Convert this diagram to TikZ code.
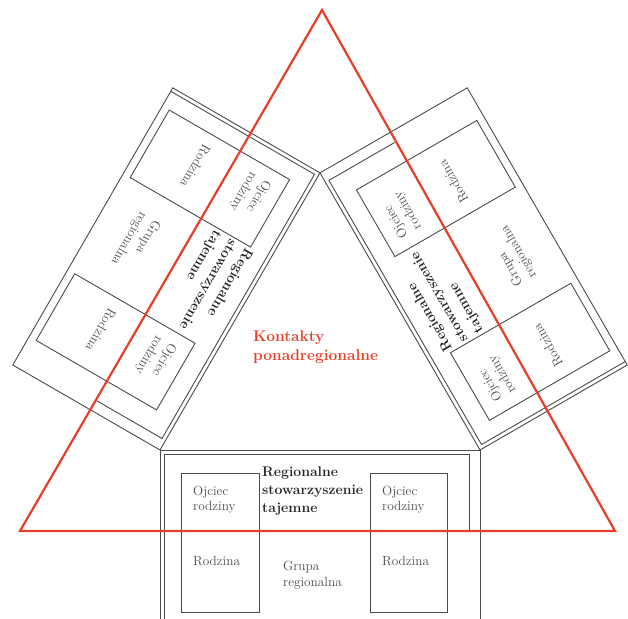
\documentclass[tikz,border=0pt]{standalone}
\definecolor{kred}{RGB}{232,62,40}
\definecolor{kgray}{RGB}{75,75,75}
\tikzset{
	box/.style={draw=kgray, line width=0.9pt},
	small/.style={text=kgray, font=\fontsize{13.3}{15.5}\selectfont, align=left, anchor=west, inner sep=0pt, transform shape},
	title/.style={text=black!85, font=\bfseries\fontsize{14}{18}\selectfont, align=left, anchor=west, inner sep=0pt, transform shape},
	red/.style={draw=kred, line width=2.2pt}
}
\begin{document}
\begin{tikzpicture}[x=1pt,y=1pt]
			\useasboundingbox (0,0) rectangle (628,618);
			
			%One group (bottom)
			\def\a{0}
			\begin{scope}[rotate around={\a:(320,260.38)}, shift={(160,168)}]
			\draw[box] (0,0) rectangle (320,-170);
			\draw[box] (4,-170) -- (4,-4) -- (309,-4) -- (309,-80);
			\draw[box] (21,-23) rectangle (99,-162);
			\draw[box] (210,-23) rectangle (287,-162);
			\node[small] (OB1) at (33,-49.5) {Ojciec\\rodziny};
			\node[small] (RB1) at (33,-111) {Rodzina};
			\node[small] (OB2) at (222,-49.5) {Ojciec\\rodziny};
			\node[small] (RB2) at (222,-111) {Rodzina};
			\node[small] (GB) at (123,-125) {Grupa\\regionalna};
			\node[title] (SB) at (102,-41.5) {Regionalne\\stowarzyszenie\\tajemne};
			\end{scope}
			
			%One group (right)
			\def\a{120}
			\begin{scope}[rotate around={\a:(320,260.38)}, shift={(160,168)}]
			\draw[box] (0,0) rectangle (320,-170);
			\draw[box] (4,-170) -- (4,-4) -- (309,-4) -- (309,-80);
			\draw[box] (21,-23) rectangle (99,-162);
			\draw[box] (210,-23) rectangle (287,-162);
			\node[small] (OR1) at (33,-49.5) {Ojciec\\rodziny};
			\node[small] (RR1) at (33,-111) {Rodzina};
			\node[small] (OR2) at (222,-49.5) {Ojciec\\rodziny};
			\node[small] (RR2) at (222,-111) {Rodzina};
			\node[small] (GR) at (123,-125) {Grupa\\regionalna};
			\node[title] (SR) at (102,-41.5) {Regionalne\\stowarzyszenie\\tajemne};
			\end{scope}
			
			%One group (left)
			\def\a{240}
			\begin{scope}[rotate around={\a:(320,260.38)}, shift={(160,168)}]
			\draw[box] (0,0) rectangle (320,-170);
			\draw[box] (4,-170) -- (4,-4) -- (309,-4) -- (309,-80);
			\draw[box] (21,-23) rectangle (99,-162);
			\draw[box] (210,-23) rectangle (287,-162);
			\node[small] (OL1) at (33,-49.5) {Ojciec\\rodziny};
			\node[small] (RL1) at (33,-111) {Rodzina};
			\node[small] (OL2) at (222,-49.5) {Ojciec\\rodziny};
			\node[small] (RL2) at (222,-111) {Rodzina};
			\node[small] (GL) at (123,-125) {Grupa\\regionalna};
			\node[title] (SL) at (102,-41.5) {Regionalne\\stowarzyszenie\\tajemne};
			\end{scope}
			
			%Kontakty
			\coordinate (T1) at (322,608);
			\coordinate (T2) at (20,87);
			\coordinate (T3) at (615,87);
			\draw[red] (T1) -- (T2) -- (T3) -- cycle;
			\node[anchor=west, align=left, inner sep=0pt, text=kred, font=\bfseries\fontsize{15.5}{19}\selectfont] (K) at (253,271) {Kontakty\\ponadregionalne};
		\end{tikzpicture}
\end{document}
